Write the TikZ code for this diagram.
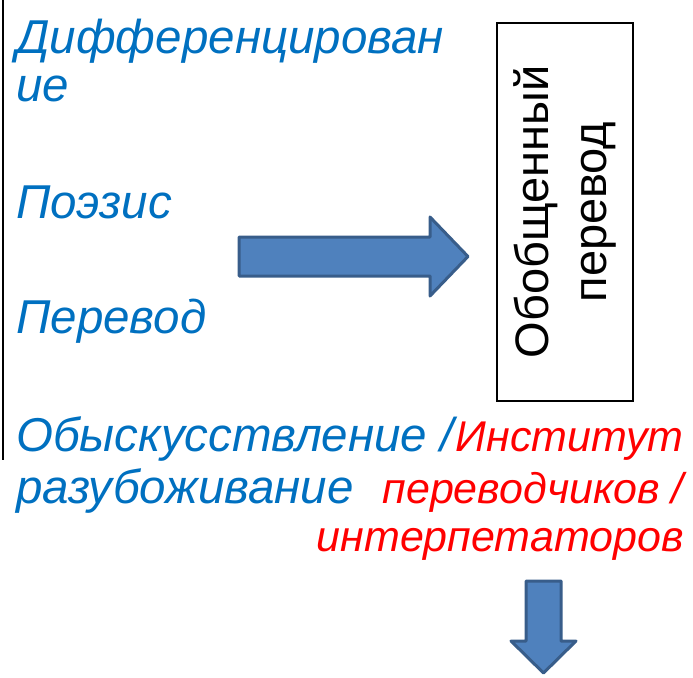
\documentclass[tikz,border=0pt]{standalone}
\usepackage{fontspec}
\setmainfont{Liberation Sans}
\usepackage{xcolor}
\usetikzlibrary{positioning}
\definecolor{txtblue}{HTML}{0070C0}
\definecolor{txtred}{HTML}{FF0000}
\definecolor{arrfill}{HTML}{4F81BD}
\definecolor{arrline}{HTML}{385D8A}
\tikzset{
  term/.style ={inner sep=0pt, text=txtblue, font=\fontsize{47.5}{50}\selectfont\itshape},
  inst/.style ={inner sep=0pt, text=txtred, font=\fontsize{43}{50}\selectfont\itshape},
  genbox/.style={draw=black, line width=1.6pt, rotate=90, align=center, inner sep=0pt,
                 font=\fontsize{47}{58}\selectfont},
  blockarr/.style={fill=arrfill, draw=arrline, line width=3pt, line join=round},
}

\begin{document}
\begin{tikzpicture}[x=1pt, y=-1pt]
        \useasboundingbox (0,0) rectangle (693,677);
        \draw[line width=2pt] (3,0) -- (3,460);
        % left column
        \node[term, anchor=base west] (dif)  at (16,53)  {Дифференцирован};
        \node[term, anchor=base west] (dif2) at (16,101) {ие};
        \node[term, anchor=base west] (poe)  at (16,218) {Поэзис};
        \node[term, anchor=base west] (per)  at (16,333) {Перевод};
        \node[term, anchor=base west] (oby)  at (16,451) {Обыскусствление /};
        \node[term, anchor=base west] (raz)  at (16,503) {разубоживание};
        % institute
        \node[inst, anchor=base east] (ins1) at (684,451) {Институт};
        \node[inst, anchor=base east] (ins2) at (684,503) {переводчиков /};
        \node[inst, anchor=base east] (ins3) at (684,551) {интерпетаторов};
        % box
        \node[genbox, minimum width=378pt, minimum height=136pt] (gen) at (565,212)
          {Обобщенный\\перевод};
        % arrows
        \draw[blockarr] (239,237) -- (430,237) -- (430,217) -- (468,256.5)
          -- (430,296) -- (430,276) -- (239,276) -- cycle;
        \draw[blockarr] (526,581) -- (561,581) -- (561,641) -- (576,641)
          -- (543.5,673) -- (511,641) -- (526,641) -- cycle;
      \end{tikzpicture}
\end{document}
